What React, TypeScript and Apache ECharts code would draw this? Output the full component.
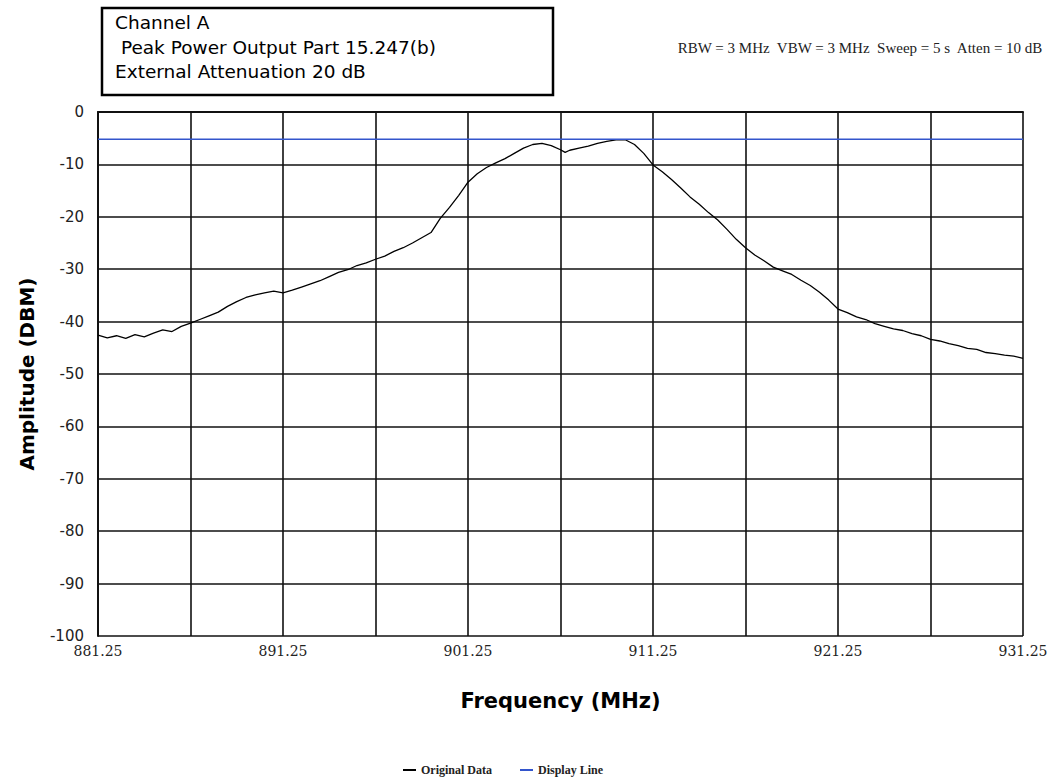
import React, { useEffect, useRef } from "react";
import * as echarts from "echarts";

const START_FREQ = 881.25;
const END_FREQ = 931.25;

// Original trace: frequency (MHz) and amplitude (dBm)
const freqs: number[] = [
  881.25, 881.75, 882.25, 882.75, 883.25, 883.75, 884.25, 884.75, 885.25, 885.75,
  886.25, 886.75, 887.25, 887.75, 888.25, 888.75, 889.25, 889.75, 890.25, 890.75,
  891.25, 891.75, 892.25, 892.75, 893.25, 893.75, 894.25, 894.75, 895.25, 895.75,
  896.25, 896.75, 897.25, 897.75, 898.25, 898.75, 899.25, 899.75, 900.25, 900.75,
  901.25, 901.75, 902.25, 902.75, 903.25, 903.75, 904.25, 904.75, 905.25, 905.75,
  906.25, 906.5, 906.75, 907.25, 907.75, 908.25, 908.75, 909.25, 909.75, 910.25, 910.75,
  911.25, 911.75, 912.25, 912.75, 913.25, 913.75, 914.25, 914.75, 915.25, 915.75,
  916.25, 916.75, 917.25, 917.75, 918.25, 918.75, 919.25, 919.75, 920.25, 920.75,
  921.25, 921.75, 922.25, 922.75, 923.25, 923.75, 924.25, 924.75, 925.25, 925.75,
  926.25, 926.75, 927.25, 927.75, 928.25, 928.75, 929.25, 929.75, 930.25, 930.75,
  931.25,
];
const amplitude: number[] = [
  -42.6, -43.1, -42.7, -43.2, -42.5, -42.9, -42.2, -41.6, -41.9, -40.9,
  -40.3, -39.6, -38.9, -38.2, -37.1, -36.2, -35.4, -34.9, -34.5, -34.2,
  -34.5, -34.0, -33.4, -32.8, -32.2, -31.4, -30.6, -30.1, -29.3, -28.8,
  -28.1, -27.5, -26.6, -25.9, -25.0, -24.0, -23.0, -20.3, -18.2, -15.9,
  -13.4, -11.8, -10.6, -9.7, -8.9, -7.9, -6.9, -6.2, -6.0, -6.4,
  -7.2, -7.7, -7.3, -6.9, -6.5, -6.0, -5.6, -5.3, -5.3, -6.2, -7.9,
  -10.1, -11.4, -12.9, -14.5, -16.2, -17.6, -19.2, -20.6, -22.4, -24.3,
  -25.9, -27.3, -28.4, -29.6, -30.3, -31.0, -32.1, -33.1, -34.4, -35.9,
  -37.6, -38.3, -39.1, -39.6, -40.4, -40.9, -41.4, -41.7, -42.3, -42.7,
  -43.4, -43.7, -44.2, -44.6, -45.1, -45.3, -45.9, -46.1, -46.4, -46.6,
  -47.0,
];

const displayLineLevel = -5.2;
const xTickLabels: number[] = [881.25, 891.25, 901.25, 911.25, 921.25, 931.25];
const titleLines: string[] = [
  "Channel A",
  " Peak Power Output Part 15.247(b)",
  "External Attenuation 20 dB",
];
const settingsText = "RBW = 3 MHz  VBW = 3 MHz  Sweep = 5 s  Atten = 10 dB";

export default function App() {
  const ref = useRef<HTMLDivElement>(null);

  useEffect(() => {
    if (!ref.current) return;
    const chart = echarts.init(ref.current, undefined, { renderer: "svg" });

    const traceData = freqs.map((f, i) => [f - START_FREQ, amplitude[i]]);
    const displayData = [
      [0, displayLineLevel],
      [END_FREQ - START_FREQ, displayLineLevel],
    ];
    const labelSet = new Set(xTickLabels.map((v) => (v - START_FREQ).toFixed(2)));

    chart.setOption({
      animation: false,
      backgroundColor: "#ffffff",
      grid: { left: 98, right: 35, top: 112, bottom: 142, containLabel: false },
      xAxis: {
        type: "value",
        min: 0,
        max: END_FREQ - START_FREQ,
        interval: 5,
        name: "Frequency (MHz)",
        nameLocation: "middle",
        nameGap: 54,
        nameTextStyle: {
          fontFamily: "DejaVu Sans",
          fontWeight: "bold",
          fontSize: 21,
          color: "#000",
        },
        axisLine: { show: true, lineStyle: { color: "#111", width: 2 } },
        axisTick: { show: false },
        splitLine: { show: true, lineStyle: { color: "#111", width: 1.6 } },
        axisLabel: {
          margin: 8,
          fontFamily: "DejaVu Serif",
          fontSize: 14,
          color: "#222",
          showMinLabel: true,
          showMaxLabel: true,
          formatter: (v: number) =>
            labelSet.has(v.toFixed(2)) ? (v + START_FREQ).toFixed(2) : "",
        },
      },
      yAxis: {
        type: "value",
        min: -100,
        max: 0,
        interval: 10,
        name: "Amplitude (DBM)",
        nameLocation: "middle",
        nameGap: 61,
        nameRotate: 90,
        nameTextStyle: {
          fontFamily: "DejaVu Sans",
          fontWeight: "bold",
          fontSize: 20,
          color: "#000",
        },
        axisLine: { show: true, lineStyle: { color: "#111", width: 2 } },
        axisTick: { show: false },
        splitLine: { show: true, lineStyle: { color: "#111", width: 1.6 } },
        axisLabel: {
          margin: 14,
          fontFamily: "DejaVu Sans",
          fontSize: 15,
          color: "#222",
        },
      },
      legend: {
        top: 763,
        left: 403,
        padding: 0,
        itemWidth: 13,
        itemHeight: 2,
        itemGap: 28,
        icon: "rect",
        textStyle: {
          fontFamily: "Liberation Serif",
          fontWeight: "bold",
          fontSize: 12,
          lineHeight: 14,
          color: "#222",
        },
        data: [
          { name: "Original Data", itemStyle: { color: "#000" } },
          { name: "Display Line", itemStyle: { color: "#3355cc" } },
        ],
      },
      graphic: [
        {
          type: "rect",
          shape: { x: 102, y: 8, width: 451, height: 87 },
          style: { fill: "#fff", stroke: "#000", lineWidth: 2.5 },
        },
        ...titleLines.map((t, i) => ({
          type: "text",
          left: 115,
          top: 13 + i * 24.5,
          style: {
            text: t,
            fontFamily: "DejaVu Sans",
            fontSize: 18.5,
            fill: "#000",
          },
        })),
        {
          type: "text",
          right: 14,
          top: 40,
          style: {
            text: settingsText,
            fontFamily: "Liberation Serif",
            fontSize: 15,
            fill: "#222",
          },
        },
      ],
      series: [
        {
          name: "Original Data",
          type: "line",
          data: traceData,
          showSymbol: false,
          lineStyle: { color: "#000", width: 1.3 },
          itemStyle: { color: "#000" },
          z: 3,
        },
        {
          name: "Display Line",
          type: "line",
          data: displayData,
          showSymbol: false,
          lineStyle: { color: "#3355cc", width: 1.5 },
          itemStyle: { color: "#3355cc" },
          z: 4,
        },
      ],
    });

    return () => chart.dispose();
  }, []);

  return (
    <div
      ref={ref}
      style={{ position: "fixed", left: 0, top: 0, width: 1058, height: 778 }}
    />
  );
}
